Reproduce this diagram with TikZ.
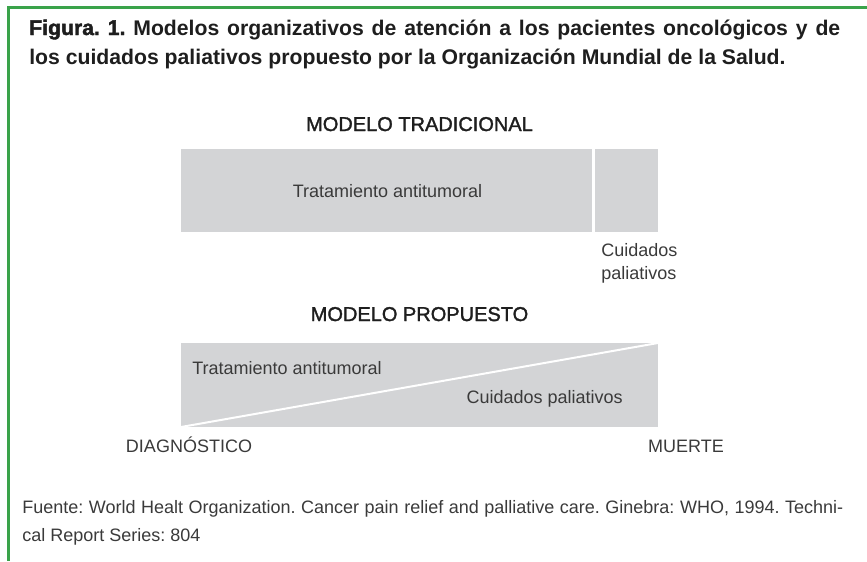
\documentclass[tikz,border=0pt]{standalone}
\usepackage{fontspec}
\setmainfont{Liberation Sans}
\newfontfamily\medfont[FakeBold=1.6]{Liberation Sans}
\newfontfamily\blackfont[UprightFont = * Bold, FakeBold = 2]{Liberation Sans}
\frenchspacing

\definecolor{framegreen}{RGB}{58,163,74}
\definecolor{barfill}{RGB}{211,212,214}
\definecolor{txt}{RGB}{58,58,58}
\definecolor{titletxt}{RGB}{30,30,30}

\begin{document}
\begin{tikzpicture}
        [
            x = 0.75pt, y = -0.75pt,
            frame/.style = {draw = framegreen, line width = 2.25pt},
            bar/.style = {fill = barfill, inner sep = 0pt, outer sep = 0pt, anchor = north west},
            lbl/.style = {text = txt, inner sep = 0pt, font = \fontsize{13.5}{17.25}\selectfont},
            head/.style = {text = titletxt, inner sep = 0pt, anchor = base, font = \fontsize{15}{18}\selectfont\medfont},
            titleline/.style = {text = titletxt, inner sep = 0pt, anchor = base west, font = \fontsize{15.9}{19}\selectfont\bfseries},
            note/.style = {text = txt, inner sep = 0pt, anchor = base west, font = \fontsize{13.5}{16}\selectfont},
        ]

        \useasboundingbox (0,0) rectangle (867,561);

        % marco
        \coordinate (corner) at (8,7);
        \coordinate (topend) at (867,7);
        \coordinate (leftend) at (8,561);
        \draw[frame] (topend) -- (corner) -- (leftend);

        \node[titleline] (title1) at (29,35) {\makebox[608.25pt][s]{{\blackfont Figura. 1.} Modelos organizativos de atención a los pacientes oncológicos y de}};
        \node[titleline] (title2) at (29,64) {los cuidados paliativos propuesto por la Organización Mundial de la Salud.};

        % modelo tradicional
        \node[head] (tradhead) at (419.5,131) {MODELO TRADICIONAL};
        \node[bar, minimum width = 308.25pt, minimum height = 62.25pt] (tratbar) at (181,149) {};
        \node[bar, minimum width = 47.25pt, minimum height = 62.25pt] (palbar) at (595,149) {};
        \node[lbl, anchor = base] (tratlbl) at (387.5,197.7) {Tratamiento antitumoral};
        \node[lbl, anchor = base west, align = left] (pallbl) at (601,279) {Cuidados\\paliativos};

        % modelo propuesto
        \node[head] (prophead) at (419.5,321) {MODELO PROPUESTO};
        \node[bar, minimum width = 357.75pt, minimum height = 63pt] (propbar) at (181,343) {};
        \draw[white, line width = 1.5pt] (propbar.south west) -- (propbar.north east);
        \node[lbl, anchor = base west] (proptrat) at (192,374) {Tratamiento antitumoral};
        \node[lbl, anchor = base east] (proppal) at (623,403) {Cuidados paliativos};
        \node[lbl, anchor = base] (diag) at (189,452) {DIAGNÓSTICO};
        \node[lbl, anchor = base] (muerte) at (686,452) {MUERTE};

        \node[note] (fuente1) at (22,513) {\makebox[615.75pt][s]{Fuente: World Healt Organization. Cancer pain relief and palliative care. Ginebra: WHO, 1994. Techni-}};
        \node[note] (fuente2) at (22,541) {cal Report Series: 804};

    \end{tikzpicture}
\end{document}
